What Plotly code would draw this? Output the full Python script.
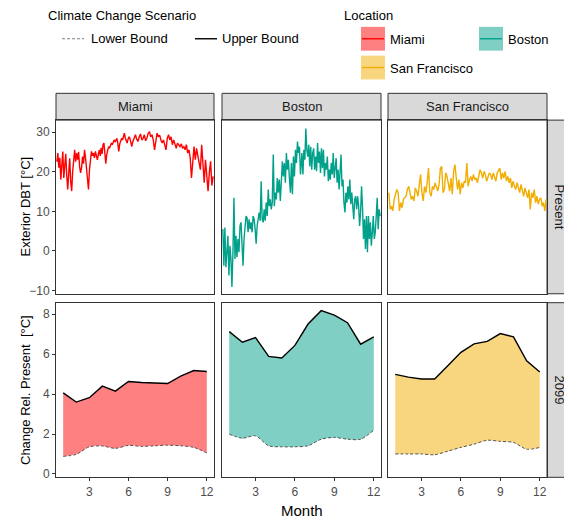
import numpy as np
import plotly.graph_objects as go

# The page body has an 8px margin, so the figure is drawn 8px smaller and
# all layout positions (given in window pixels) are shifted by that offset.
WIN_W, WIN_H = 572, 522
OFF = 8
W, H = WIN_W - OFF, WIN_H - OFF

cities = ["Miami", "Boston", "San Francisco"]
row_labels = ["Present", "2099"]
line_colors = ["#FF0000", "#00A08A", "#F2AD00"]
fill_colors = ["#FF8080", "#80CFC4", "#F8D680"]

# ---------------- Present: daily exterior dry-bulb temperature (deg C) ----------------
miami_a = [22.5, 24.7, 21.0, 23.5, 18.0, 21.5, 25.1, 18.4, 22.0, 24.5, 19.0, 15.5, 19.5, 23.4,
           17.5, 15.1, 20.0, 23.5, 25.5, 22.5, 24.7, 23.0, 25.0, 21.3, 19.7, 21.0, 23.8, 22.0,
           25.5, 23.5, 21.3, 18.0, 15.5, 20.5, 23.0, 25.1, 24.0, 24.7, 23.5, 25.1, 24.0, 23.0,
           24.5, 25.5]
miami_b = [24.0, 26.0, 24.5, 26.8, 27.2, 25.0, 22.0, 24.3, 25.5, 26.3, 25.9, 26.5, 27.2, 26.8,
           27.5, 28.0, 27.6, 28.2, 28.4, 27.0, 25.1, 27.0, 27.6, 28.4, 28.0, 28.8, 29.7, 28.5,
           28.0, 27.2, 28.2, 28.8, 28.4, 27.5, 26.3, 27.5, 28.0, 28.8]
miami_c = [29.3, 28.2, 27.6, 28.8, 29.5, 28.0, 28.4, 29.3, 27.8, 28.4, 29.7, 30.1, 28.8, 29.3,
           28.0, 25.5, 28.4, 29.7, 28.8, 29.2, 28.0, 27.2, 28.0, 26.5, 25.5, 28.4, 29.3, 28.0,
           28.8, 26.8, 28.0, 27.0, 25.9, 27.2, 26.8, 26.3, 27.0, 25.9, 26.3, 25.5, 26.8, 24.7,
           25.5, 23.5, 18.4, 23.8, 26.3, 23.0, 25.9, 24.0, 22.2, 20.5, 26.8, 22.0, 17.2, 23.0,
           19.0, 15.1, 19.7, 22.6, 16.5, 18.8]

boston_a = [5.5, -3.7, 5.9, -4.1, -0.3, 3.8, -6.2, 1.3, -2.0, -9.1, -0.3, 13.4, -2.0, 3.8,
            -1.6, 3.0, -0.3, 6.3, 7.2, 0.5, -3.7, 3.0, 5.5, 8.8, 8.4, 4.7, 8.0, 5.5,
            7.2, 4.7, 8.8, 8.0, 5.5, 1.8, 6.3, 8.0, 9.7, 7.6, 17.6, 8.0, 7.2, 10.5,
            7.6, 12.2, 8.8, 15.5, 11.3, 13.0, 10.5, 12.2, 24.3, 11.3, 14.7, 13.0, 18.4, 14.7,
            18.0, 12.6, 17.2, 22.6, 18.8, 22.2, 17.2, 24.7, 20.5, 23.0, 18.4, 14.7, 22.2, 14.3,
            23.8, 18.8, 25.5, 22.2, 27.6, 24.7, 26.3, 19.3, 23.0]
boston_b = [24.7, 19.3, 25.5, 23.0, 30.9, 25.5, 23.8, 26.8, 21.3, 26.3, 20.5, 24.7, 25.9, 20.5,
            23.8, 20.1, 27.2, 22.2, 25.1, 19.7, 25.9, 20.9, 25.5, 18.8, 22.2, 20.5, 23.8, 17.6,
            20.5, 18.0, 22.2, 19.3, 24.7, 18.4, 21.3, 23.4, 17.2, 20.5, 15.5, 21.3, 24.3, 16.3,
            18.0, 12.2, 9.7, 14.7, 12.2, 16.3, 13.0, 18.0, 11.8, 14.7, 11.3, 8.0, 13.0, 13.8,
            10.5, 13.8, 11.3, 6.3, 9.7, 16.3, 10.9, 3.0, 8.0, 0.5, 8.8, -0.3, 8.8, 3.0,
            7.2, 1.3, 4.7, 8.8, 3.0, 4.7, 8.8, 13.4, 5.5, 10.5, 8.8]

sanfran = [14.7, 10.5, 11.3, 10.1, 13.0, 14.7, 15.5, 14.7, 10.1, 12.2,
           10.9, 13.0, 13.4, 13.8, 15.5, 16.3, 14.7, 13.0, 13.8, 12.6,
           15.9, 15.1, 13.8, 17.2, 19.3, 14.7, 12.6, 16.3, 14.7, 17.2,
           20.9, 14.7, 13.8, 16.3, 15.5, 17.2, 15.9, 15.1, 16.8, 20.9,
           21.3, 14.7, 15.5, 19.7, 18.8, 16.8, 15.1, 18.4, 14.3, 20.1,
           21.8, 18.4, 15.5, 18.0, 14.3, 17.2, 15.9, 17.6, 17.2, 22.2,
           16.3, 18.0, 18.8, 17.6, 19.3, 18.0, 18.4, 17.2, 18.8, 20.5,
           19.7, 18.4, 20.1, 19.3, 17.6, 18.8, 19.7, 19.3, 18.0, 19.7,
           18.8, 17.6, 19.7, 20.5, 20.9, 18.0, 19.7, 18.4, 20.1, 17.6,
           18.8, 17.2, 18.4, 15.9, 17.6, 16.3, 15.5, 17.2, 15.9, 14.7,
           16.8, 15.5, 13.8, 15.9, 14.7, 13.4, 15.5, 10.5, 14.7, 13.4,
           15.5, 12.2, 13.8, 11.8, 13.0, 13.4, 11.3, 12.2, 10.1, 13.0]

# ---------------- 2099: monthly change relative to present (deg C) ----------------
months = list(range(1, 13))
miami_upper = [4.06, 3.60, 3.82, 4.40, 4.15, 4.63, 4.58, 4.56, 4.53, 4.90, 5.18, 5.13]
miami_lower = [0.88, 0.98, 1.36, 1.40, 1.28, 1.43, 1.38, 1.41, 1.44, 1.41, 1.33, 1.05]
boston_upper = [7.13, 6.60, 6.83, 5.89, 5.81, 6.44, 7.51, 8.18, 7.96, 7.58, 6.50, 6.87]
boston_lower = [1.99, 1.79, 1.91, 1.41, 1.36, 1.36, 1.41, 1.74, 1.83, 1.74, 1.74, 2.19]
sf_upper = [4.99, 4.85, 4.76, 4.76, 5.42, 6.09, 6.52, 6.64, 7.03, 6.87, 5.67, 5.11]
sf_lower = [1.00, 1.00, 1.00, 0.96, 1.14, 1.33, 1.49, 1.69, 1.63, 1.58, 1.24, 1.33]

present_temps = [miami_a + miami_b + miami_c, boston_a + boston_b, sanfran]
present_days = [
    np.concatenate([np.linspace(1, 100, len(miami_a)), np.linspace(102, 182, len(miami_b)),
                    np.linspace(184, 365, len(miami_c))]),
    np.concatenate([np.linspace(1, 183, len(boston_a)), np.linspace(184, 365, len(boston_b))]),
    np.linspace(1, 365, len(sanfran)),
]
uppers = [miami_upper, boston_upper, sf_upper]
lowers = [miami_lower, boston_lower, sf_lower]

FONT = "Liberation Sans, Arial, sans-serif"

def X(p):
    return (p - OFF) / W

def Y(p):
    return 1 - (p - OFF) / H

col_px = [(56, 214), (222, 381), (388, 547)]
row_px = [(121, 296), (305, 481)]

fig = go.Figure()
layout = dict(
    width=W, height=H, margin=dict(l=0, r=0, t=0, b=0),
    paper_bgcolor="white", plot_bgcolor="white", showlegend=False,
    font=dict(family=FONT, size=12, color="#4D4D4D"),
)

axis_common = dict(showline=True, mirror=True, linecolor="#333333", linewidth=1,
                   showgrid=False, zeroline=False, tickcolor="#333333", ticklen=3,
                   tickfont=dict(family=FONT, size=12, color="#4D4D4D"))

for r in range(2):
    for c in range(3):
        k = r * 3 + c + 1
        xa = "xaxis" if k == 1 else f"xaxis{k}"
        ya = "yaxis" if k == 1 else f"yaxis{k}"
        xs = "x" if k == 1 else f"x{k}"
        ys = "y" if k == 1 else f"y{k}"
        xdom = [X(col_px[c][0]), X(col_px[c][1])]
        ydom = [Y(row_px[r][1]), Y(row_px[r][0])]
        if r == 0:
            layout[xa] = dict(axis_common, domain=xdom, anchor=ys, range=[-1, 367],
                              showticklabels=False, ticks="")
            layout[ya] = dict(axis_common, domain=ydom, anchor=xs, range=[-10.8, 33],
                              tickvals=[-10, 0, 10, 20, 30],
                              ticks="outside" if c == 0 else "",
                              showticklabels=(c == 0))
            fig.add_trace(go.Scatter(x=present_days[c], y=present_temps[c], mode="lines",
                                     line=dict(color=line_colors[c], width=1.4),
                                     xaxis=xs, yaxis=ys))
        else:
            layout[xa] = dict(axis_common, domain=xdom, anchor=ys, range=[0.45, 12.55],
                              tickvals=[3, 6, 9, 12], ticks="outside")
            layout[ya] = dict(axis_common, domain=ydom, anchor=xs, range=[-0.17, 8.58],
                              tickvals=[0, 2, 4, 6, 8],
                              ticks="outside" if c == 0 else "",
                              showticklabels=(c == 0))
            fig.add_trace(go.Scatter(x=months, y=lowers[c], mode="lines",
                                     line=dict(color="#555555", width=1, dash="3px,2px",
                                               shape="spline", smoothing=0.8),
                                     xaxis=xs, yaxis=ys))
            fig.add_trace(go.Scatter(x=months, y=uppers[c], mode="lines", fill="tonexty",
                                     fillcolor=fill_colors[c],
                                     line=dict(color="black", width=1.4),
                                     xaxis=xs, yaxis=ys))

shapes = []
annotations = []

# strips on top
for c, name in enumerate(cities):
    x0, x1 = col_px[c]
    shapes.append(dict(type="rect", xref="paper", yref="paper", x0=X(x0), x1=X(x1),
                       y0=Y(row_px[0][0]), y1=Y(94), fillcolor="#D9D9D9",
                       line=dict(color="#333333", width=1), layer="below"))
    annotations.append(dict(xref="paper", yref="paper", x=X((x0 + x1) / 2), y=Y(107.5),
                            text=name, showarrow=False, xanchor="center", yanchor="middle",
                            font=dict(family=FONT, size=13, color="#1A1A1A")))
# strips on right
for r, lab in enumerate(row_labels):
    y0, y1 = row_px[r]
    shapes.append(dict(type="rect", xref="paper", yref="paper", x0=X(547), x1=X(571.5),
                       y0=Y(y1), y1=Y(y0), fillcolor="#D9D9D9",
                       line=dict(color="#333333", width=1), layer="below"))
    annotations.append(dict(xref="paper", yref="paper", x=X(559.5), y=Y((y0 + y1) / 2),
                            text=lab, showarrow=False, textangle=90,
                            xanchor="center", yanchor="middle",
                            font=dict(family=FONT, size=13, color="#1A1A1A")))

# axis titles
annotations.append(dict(xref="paper", yref="paper", x=X(25), y=Y(208),
                        text="Exterior DBT [°C]", showarrow=False, textangle=-90,
                        xanchor="center", yanchor="middle",
                        font=dict(family=FONT, size=13, color="black")))
annotations.append(dict(xref="paper", yref="paper", x=X(25), y=Y(393),
                        text="Change Rel. Present\u00a0 [°C]", showarrow=False, textangle=-90,
                        xanchor="center", yanchor="middle",
                        font=dict(family=FONT, size=13, color="black")))
annotations.append(dict(xref="paper", yref="paper", x=X(301.5), y=Y(514),
                        text="Month", showarrow=False, xanchor="center", yanchor="middle",
                        font=dict(family=FONT, size=15, color="black")))

# legend: climate change scenario
annotations.append(dict(xref="paper", yref="paper", x=X(46), y=Y(15.5),
                        text="Climate Change Scenario", showarrow=False,
                        xanchor="left", yanchor="middle",
                        font=dict(family=FONT, size=13, color="black")))
shapes.append(dict(type="line", xref="paper", yref="paper", x0=X(62), x1=X(84),
                   y0=Y(39), y1=Y(39), line=dict(color="#808080", width=1.2, dash="3px,2px")))
annotations.append(dict(xref="paper", yref="paper", x=X(89), y=Y(39),
                        text="Lower Bound", showarrow=False, xanchor="left", yanchor="middle",
                        font=dict(family=FONT, size=13, color="black")))
shapes.append(dict(type="line", xref="paper", yref="paper", x0=X(195), x1=X(217),
                   y0=Y(39), y1=Y(39), line=dict(color="black", width=1.4)))
annotations.append(dict(xref="paper", yref="paper", x=X(220), y=Y(39),
                        text="Upper Bound", showarrow=False, xanchor="left", yanchor="middle",
                        font=dict(family=FONT, size=13, color="black")))

# legend: location
annotations.append(dict(xref="paper", yref="paper", x=X(342), y=Y(15.5),
                        text="Location", showarrow=False, xanchor="left", yanchor="middle",
                        font=dict(family=FONT, size=13, color="black")))
key_pos = [(361, 27), (479, 27), (361, 56)]
for c, name in enumerate(cities):
    kx, ky = key_pos[c]
    shapes.append(dict(type="rect", xref="paper", yref="paper", x0=X(kx), x1=X(kx + 24),
                       y0=Y(ky + 24), y1=Y(ky), fillcolor=fill_colors[c],
                       line=dict(width=0)))
    shapes.append(dict(type="line", xref="paper", yref="paper", x0=X(kx + 1), x1=X(kx + 23),
                       y0=Y(ky + 12), y1=Y(ky + 12),
                       line=dict(color=line_colors[c], width=1.4)))
    annotations.append(dict(xref="paper", yref="paper", x=X(kx + 27), y=Y(ky + 12.5),
                            text=name, showarrow=False, xanchor="left", yanchor="middle",
                            font=dict(family=FONT, size=13, color="black")))

layout["shapes"] = shapes
layout["annotations"] = annotations
fig.update_layout(**layout)
fig.write_html("out.html")
